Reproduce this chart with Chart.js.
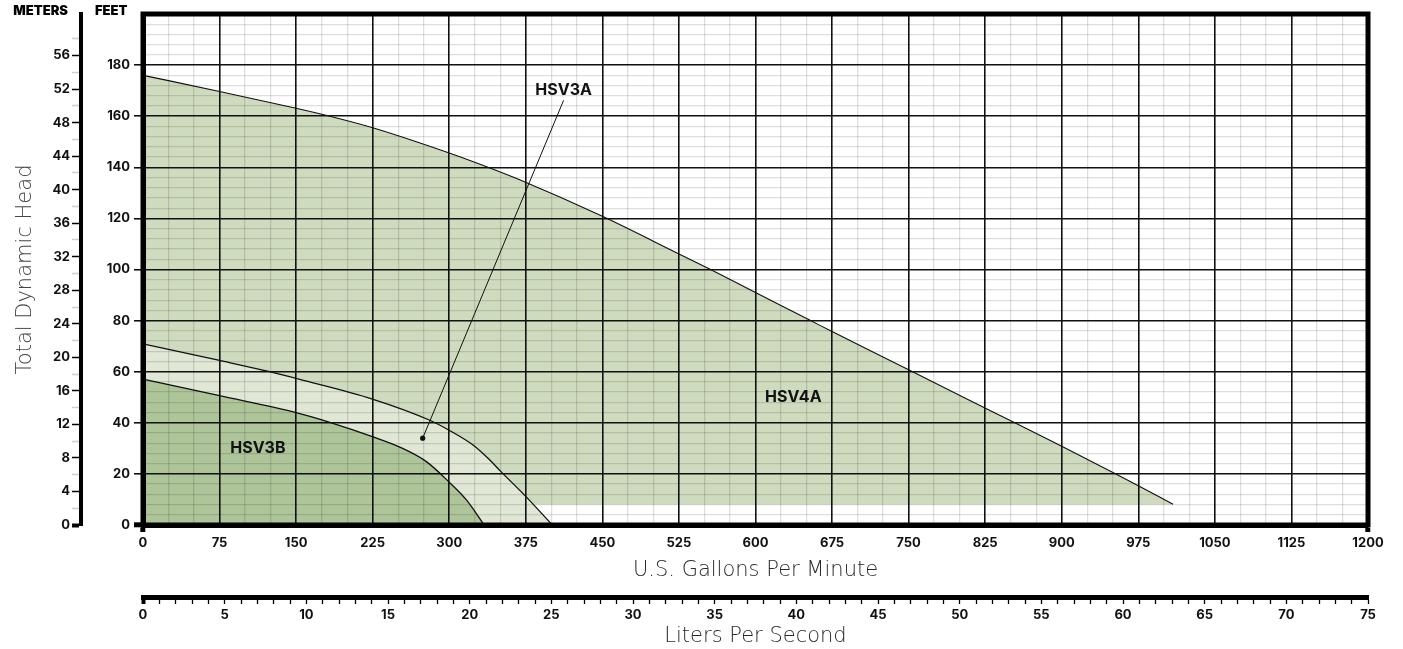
<!DOCTYPE html>
<html><head><meta charset="utf-8">
<script src="https://cdn.jsdelivr.net/npm/chart.js@4.4.1/dist/chart.umd.min.js"></script>
<style>html,body{margin:0;padding:0;background:#fff;} #wrap{position:relative;width:1403px;height:649px;}</style>
</head><body><div id="wrap"><canvas id="c"></canvas></div>
<script>
// ---- data ----
const hsv4aGpm = [0, 75, 150, 183, 225, 300, 336, 369, 450, 525, 555, 600, 653, 675, 750, 809, 855, 900, 953, 975, 1009];
const hsv4aFt  = [176.0, 169.7, 163.1, 160.0, 155.5, 145.6, 140.3, 135.1, 120.8, 106.1, 100.2, 91.0, 80.2, 75.7, 60.8, 48.9, 39.8, 30.8, 20.0, 15.4, 8.1];
const hsv4aFloorFt = 8;

const hsv3aGpm = [0, 75, 124, 153.5, 224.7, 280.9, 299.8, 323.3, 337.7, 350.4, 375.6, 401];
const hsv3aFt  = [70.9, 64.4, 60.0, 57.0, 49.3, 41.0, 37.1, 31.3, 26.2, 21.0, 10.9, 0];

const hsv3bGpm = [0, 75, 150, 183, 224.7, 251.5, 277.6, 299.8, 316.8, 334.2];
const hsv3bFt  = [57.1, 50.6, 44.0, 40.2, 34.6, 30.5, 24.8, 16.8, 9.8, 0];

const leaderGpm = [412, 274];
const leaderFt  = [166.2, 34];

const seriesLabels = ['HSV3B', 'HSV3A', 'HSV4A'];
const labelGpm = [112.5, 412, 637];
const labelFt  = [30, 170, 50];

const gpmLabels   = [0, 75, 150, 225, 300, 375, 450, 525, 600, 675, 750, 825, 900, 975, 1050, 1125, 1200];
const feetLabels  = [0, 20, 40, 60, 80, 100, 120, 140, 160, 180];
const meterLabels = [0, 4, 8, 12, 16, 20, 24, 28, 32, 36, 40, 44, 48, 52, 56];
const lpsLabels   = [0, 5, 10, 15, 20, 25, 30, 35, 40, 45, 50, 55, 60, 65, 70, 75];

// ---- helpers ----
const pts = (xs, ys) => xs.map((x, i) => ({x, y: ys[i]}));
const isIn = (arr, v) => arr.some(a => Math.abs(a - v) < 1e-6);
const ink = '#111';
const minor = 'rgba(0,0,0,0.13)';
const clear = 'rgba(0,0,0,0)';
const tickFont = {family: 'Inter, "DejaVu Sans", sans-serif', size: 13, weight: '700'};
const titleFont = {family: '"DejaVu Sans", sans-serif', size: 21, weight: '200'};

const overlayPlugin = {
  id: 'overlay',
  afterDraw(chart) {
    const {ctx, chartArea: a, scales} = chart;
    ctx.save();
    ctx.strokeStyle = '#000';
    ctx.lineWidth = 5;
    ctx.strokeRect(a.left, a.top, a.right - a.left, a.bottom - a.top);
    // series labels
    ctx.fillStyle = ink;
    ctx.font = '700 16px Inter, "DejaVu Sans", sans-serif';
    ctx.textAlign = 'center';
    ctx.textBaseline = 'middle';
    seriesLabels.forEach((t, i) => {
      ctx.fillText(t, scales.x.getPixelForValue(labelGpm[i]), scales.y.getPixelForValue(labelFt[i]));
    });
    // axis headers
    ctx.font = '900 13px Inter, "DejaVu Sans", sans-serif';
    ctx.fillStyle = '#000';
    ctx.textAlign = 'right';
    ctx.fillText('METERS', scales.yM.right - 13, 11);
    ctx.textAlign = 'left';
    ctx.fillText('FEET', scales.y.left + 14, 11);
    ctx.restore();
  }
};

new Chart(document.getElementById('c'), {
  type: 'line',
  data: {
    datasets: [
      {label: 'leader', data: pts(leaderGpm, leaderFt), borderColor: ink, borderWidth: 1,
       pointRadius: [0, 2.6], pointBackgroundColor: ink, pointBorderWidth: 0, fill: false, order: 0},
      {label: 'HSV3B', data: pts(hsv3bGpm, hsv3bFt), borderColor: ink, borderWidth: 1.3,
       backgroundColor: '#aec59a', fill: 'origin', pointRadius: 0, cubicInterpolationMode: 'monotone', order: 1},
      {label: 'HSV3A', data: pts(hsv3aGpm, hsv3aFt), borderColor: ink, borderWidth: 1.3,
       backgroundColor: '#e0e7d4', fill: 'origin', pointRadius: 0, cubicInterpolationMode: 'monotone', order: 2},
      {label: 'HSV4A', data: pts(hsv4aGpm, hsv4aFt), borderColor: ink, borderWidth: 1.1,
       backgroundColor: '#cfdbbe', fill: {value: hsv4aFloorFt}, pointRadius: 0, cubicInterpolationMode: 'monotone', order: 3}
    ]
  },
  options: {
    responsive: true, maintainAspectRatio: false, animation: false,
    events: [],
    layout: {padding: {left: 0, top: 14, right: 35, bottom: 0}},
    plugins: {legend: {display: false}, tooltip: {enabled: false}},
    scales: {
      x: {
        type: 'linear', position: 'bottom', min: 0, max: 1200, weight: 0,
        ticks: {stepSize: 25, maxTicksLimit: 60, autoSkip: false, maxRotation: 0, padding: 3, color: ink, font: tickFont,
                callback: v => isIn(gpmLabels, v) ? String(v) : ''},
        grid: {z: 1, color: c => isIn(gpmLabels, c.tick.value) ? ink : minor,
               lineWidth: c => isIn(gpmLabels, c.tick.value) ? 1.6 : 1.3,
               drawTicks: true, tickLength: 7,
               tickColor: c => (c.tick.value === 0 || c.tick.value === 1200) ? '#000' : clear, tickWidth: 5},
        border: {display: true, color: '#000', width: 5, z: 1},
        title: {display: true, text: 'U.S. Gallons Per Minute', color: '#2a2a2a', font: titleFont, padding: {top: 0, bottom: 14}},
        afterFit: s => { s.height = 72; }
      },
      xL: {
        type: 'linear', position: 'bottom', min: 0, max: 75, weight: 1,
        ticks: {stepSize: 1, maxTicksLimit: 100, autoSkip: false, maxRotation: 0, padding: 3, color: ink, font: tickFont,
                callback: v => isIn(lpsLabels, v) ? String(v) : ''},
        grid: {drawOnChartArea: false, drawTicks: true, tickLength: 7, color: clear, tickColor: '#000',
               tickWidth: c => c.tick.value === 0 ? 4 : 1.3},
        border: {display: true, color: '#000', width: 5},
        title: {display: true, text: 'Liters Per Second', color: '#2a2a2a', font: titleFont, padding: {top: 0, bottom: 0}},
        afterFit: s => { s.height = 52; }
      },
      y: {
        type: 'linear', position: 'left', min: 0, max: 200, weight: 0,
        ticks: {stepSize: 4, maxTicksLimit: 60, autoSkip: false, padding: 4, color: ink, font: tickFont,
                callback: v => isIn(feetLabels, v) ? String(v) : ''},
        grid: {z: 1, color: c => isIn(feetLabels, c.tick.value) ? ink : minor,
               lineWidth: c => isIn(feetLabels, c.tick.value) ? 1.6 : 1.3,
               drawTicks: true, tickLength: 9,
               tickColor: c => isIn(feetLabels, c.tick.value) ? '#000' : clear,
               tickWidth: c => c.tick.value === 0 ? 5 : 1.5},
        border: {display: true, color: '#000', width: 5, z: 1},
        afterFit: s => { s.width = 62; }
      },
      yM: {
        type: 'linear', position: 'left', min: 0, max: 200 * 0.3048, weight: 1,
        ticks: {stepSize: 2, maxTicksLimit: 40, autoSkip: false, padding: 2, color: ink, font: tickFont,
                callback: v => isIn(meterLabels, v) ? String(v) : ''},
        grid: {drawOnChartArea: false, drawTicks: true, tickLength: 9, color: clear,
               tickColor: c => isIn(meterLabels, c.tick.value) ? '#000' : (Math.abs(c.tick.value % 2) < 1e-6 ? '#cfcfcf' : clear),
               tickWidth: c => c.tick.value === 0 ? 4 : 1.5},
        border: {display: true, color: '#000', width: 4},
        title: {display: true, text: 'Total Dynamic Head', color: '#444', font: titleFont, padding: {top: 13, bottom: 0}},
        afterFit: s => { s.width = 81; }
      }
    }
  },
  plugins: [overlayPlugin]
});
</script>
</body></html>
